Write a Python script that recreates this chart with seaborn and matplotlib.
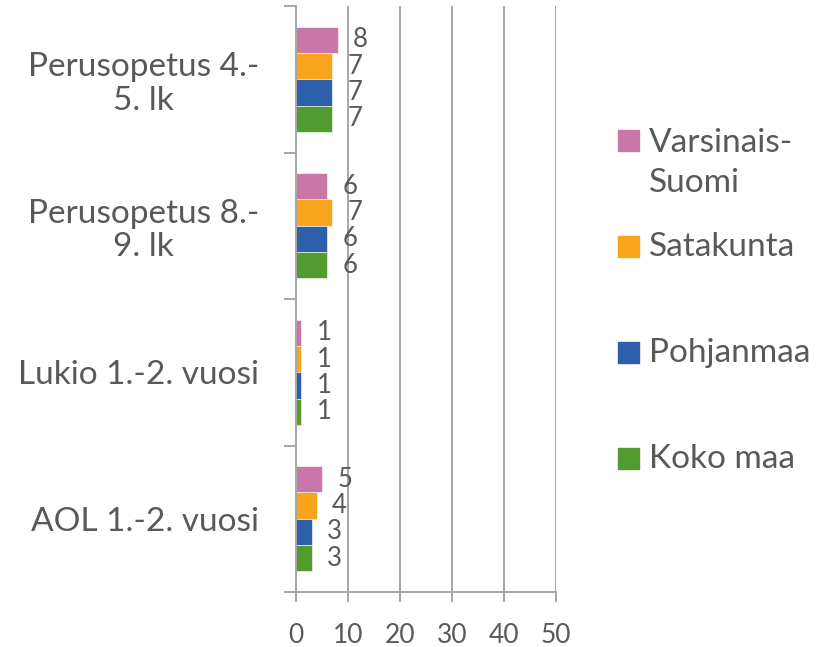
import pandas as pd
import matplotlib.pyplot as plt
import seaborn as sns
from matplotlib.patches import Rectangle

# data
categories = ["Perusopetus 4.-5. lk", "Perusopetus 8.-9. lk", "Lukio 1.-2. vuosi", "AOL 1.-2. vuosi"]
cat_labels = ["Perusopetus 4.-\n5. lk", "Perusopetus 8.-\n9. lk", "Lukio 1.-2. vuosi", "AOL 1.-2. vuosi"]
series = ["Varsinais-Suomi", "Satakunta", "Pohjanmaa", "Koko maa"]
legend_labels = ["Varsinais-\nSuomi", "Satakunta", "Pohjanmaa", "Koko maa"]
varsinais = [8, 6, 1, 5]
satakunta = [7, 7, 1, 4]
pohjanmaa = [7, 6, 1, 3]
koko_maa = [7, 6, 1, 3]
colors = ["#CB76A8", "#F8A51B", "#2E5FAA", "#519B2F"]

rows = []
for name, vals in zip(series, [varsinais, satakunta, pohjanmaa, koko_maa]):
    for cat, v in zip(categories, vals):
        rows.append({"luokka": cat, "alue": name, "arvo": v})
df = pd.DataFrame(rows)

sns.set_style("white")
plt.rcParams['font.family'] = ['Lato', 'DejaVu Sans']
grey = "#595959"
line = "#A6A6A6"

fig = plt.figure(figsize=(8.31, 6.47), dpi=100)
ax = fig.add_axes([296 / 831, 1 - 592 / 647, 260 / 831, 586 / 647])

sns.barplot(data=df, y="luokka", x="arvo", hue="alue", order=categories, hue_order=series,
            palette=colors, orient="h", width=0.72, saturation=1, legend=False,
            edgecolor="white", linewidth=0.4, ax=ax)

for cont in ax.containers:
    ax.bar_label(cont, padding=11, fontsize=18.5, color=grey)

ax.set_xlim(0, 50)
ax.set_xticks(range(0, 51, 10))
ax.set_ylim(3.5, -0.5)
ax.set_yticks([-0.5, 0.5, 1.5, 2.5, 3.5])
ax.set_yticklabels([])
ax.set_yticks(range(len(categories)), minor=True)
ax.set_yticklabels(cat_labels, minor=True)
for t in ax.get_yticklabels(minor=True):
    t.set_multialignment("center")
    t.set_linespacing(1.15)
ax.set_xlabel("")
ax.set_ylabel("")

ax.grid(axis="x", color=line, lw=1.4)
ax.set_axisbelow(True)
for s in ["top", "right"]:
    ax.spines[s].set_visible(False)
for s in ["left", "bottom"]:
    ax.spines[s].set_color(line)
    ax.spines[s].set_linewidth(1.4)
ax.tick_params(axis="y", which="major", length=9, width=1.4, color=line, left=True)
ax.tick_params(axis="y", which="minor", length=0, pad=26.5, labelsize=24, labelcolor=grey, left=True)
ax.tick_params(axis="x", length=7, width=1.4, color=line, pad=15, labelsize=19, labelcolor=grey, bottom=True)

# legend drawn by hand to match layout
W, H = 831, 647
leg_y = [141, 247, 353, 459]
for lab, col, y in zip(legend_labels, colors, leg_y):
    fig.patches.append(Rectangle((618 / W, 1 - (y + 10) / H), 21 / W, 21 / H,
                                 transform=fig.transFigure, color=col))
    ty = y + 22 if "\n" in lab else y
    fig.text(649 / W, 1 - ty / H, lab, fontsize=24, color=grey, va="center", ha="left",
             linespacing=1.42)

fig.savefig("out.png", dpi=100)
